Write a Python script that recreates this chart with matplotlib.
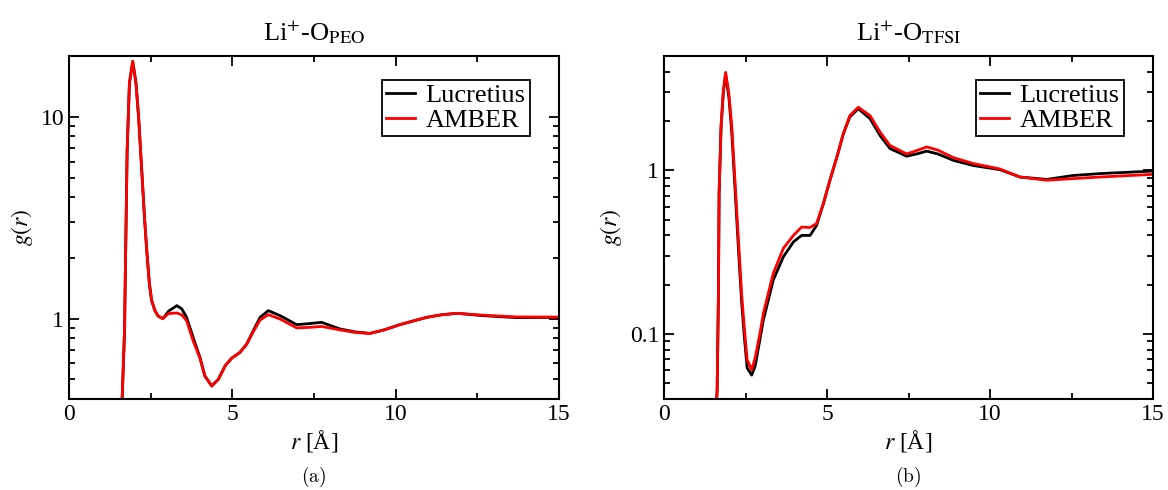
import numpy as np
import matplotlib
matplotlib.use("Agg")
from matplotlib import pyplot as plt
from matplotlib.ticker import LogLocator, FixedLocator, MultipleLocator, NullFormatter, FuncFormatter

# Li+-O(PEO) rdf
r_peo = [1.60, 1.70, 1.72, 1.75, 1.78, 1.85, 1.95, 2.05, 2.13, 2.19, 2.25, 2.31, 2.38, 2.46,
         2.53, 2.63, 2.73, 2.87, 3.05, 3.30, 3.45, 3.60, 3.80, 4.01, 4.16, 4.37, 4.57, 4.78,
         4.98, 5.23, 5.44, 5.64, 5.85, 6.10, 6.46, 6.97, 7.35, 7.73, 8.29, 8.75, 9.21, 9.65,
         10.13, 10.55, 10.95, 11.40, 11.87, 12.68, 13.70, 15.00]
g_peo_luc = [0.30, 0.87, 1.49, 3.19, 6.85, 14.7, 18.8, 14.7, 10.0, 6.85, 4.68, 3.19, 2.18, 1.49,
             1.23, 1.096, 1.03, 1.00, 1.09, 1.16, 1.12, 1.015, 0.807, 0.642, 0.52, 0.464, 0.50, 0.584,
             0.637, 0.68, 0.748, 0.872, 1.015, 1.096, 1.035, 0.934, 0.945, 0.959, 0.89, 0.86, 0.845, 0.88,
             0.934, 0.975, 1.015, 1.045, 1.063, 1.035, 1.012, 1.015]
g_peo_amb = [0.30, 0.87, 1.49, 3.19, 6.85, 14.7, 18.8, 14.7, 10.0, 6.85, 4.68, 3.19, 2.18, 1.49,
             1.23, 1.096, 1.03, 1.00, 1.06, 1.067, 1.045, 0.977, 0.777, 0.635, 0.52, 0.464, 0.50, 0.584,
             0.637, 0.68, 0.748, 0.86, 0.985, 1.047, 0.996, 0.90, 0.905, 0.915, 0.88, 0.855, 0.845, 0.88,
             0.934, 0.975, 1.015, 1.045, 1.063, 1.04, 1.02, 1.018]

# Li+-O(TFSI) rdf
r_tfsi = [1.58, 1.63, 1.67, 1.69, 1.75, 1.82, 1.89, 1.99, 2.08, 2.14, 2.20, 2.26, 2.32, 2.38,
          2.46, 2.55, 2.69, 2.80, 2.94, 3.05, 3.35, 3.66, 3.97, 4.22, 4.48, 4.68, 4.89, 5.09,
          5.30, 5.50, 5.70, 5.96, 6.32, 6.63, 6.93, 7.44, 7.75, 8.06, 8.40, 8.88, 9.49, 10.30,
          10.92, 11.74, 12.55, 13.37, 15.00]
g_tfsi_luc = [0.03, 0.045, 0.177, 0.72, 1.84, 3.0, 3.85, 2.8, 1.7, 1.05, 0.65, 0.40, 0.25, 0.158,
              0.098, 0.062, 0.056, 0.064, 0.092, 0.122, 0.213, 0.296, 0.365, 0.40, 0.40, 0.46, 0.627, 0.87,
              1.2, 1.67, 2.12, 2.38, 2.07, 1.63, 1.36, 1.22, 1.26, 1.31, 1.26, 1.15, 1.07, 1.01,
              0.91, 0.88, 0.93, 0.955, 0.99]
g_tfsi_amb = [0.03, 0.045, 0.177, 0.72, 1.84, 3.07, 3.97, 2.94, 1.84, 1.15, 0.72, 0.45, 0.283, 0.177,
              0.111, 0.0694, 0.0603, 0.072, 0.10, 0.134, 0.234, 0.333, 0.40, 0.45, 0.447, 0.473, 0.627, 0.87,
              1.2, 1.67, 2.16, 2.43, 2.16, 1.71, 1.42, 1.26, 1.32, 1.39, 1.33, 1.195, 1.10, 1.02,
              0.91, 0.87, 0.89, 0.91, 0.945]

plt.rcParams['font.family'] = ['Liberation Serif', 'DejaVu Serif']
plt.rcParams['mathtext.fontset'] = 'stix'

fig = plt.figure(figsize=(11.68, 4.9), dpi=100)
ax1 = fig.add_axes([69 / 1168, 1 - 399 / 490, 490 / 1168, 343 / 490])
ax2 = fig.add_axes([664 / 1168, 1 - 399 / 490, 489 / 1168, 343 / 490])


def fmt(v, pos):
    if v >= 1:
        return "%d" % round(v)
    return "%g" % v


def style(ax, ylim, majors, title, letter):
    ax.set_yscale('log')
    ax.set_xlim(0, 15)
    ax.set_ylim(*ylim)
    ax.xaxis.set_major_locator(MultipleLocator(5))
    ax.xaxis.set_minor_locator(MultipleLocator(2.5))
    ax.yaxis.set_major_locator(FixedLocator(majors))
    ax.yaxis.set_major_formatter(FuncFormatter(fmt))
    ax.yaxis.set_minor_locator(LogLocator(base=10, subs=np.arange(2, 10)))
    ax.yaxis.set_minor_formatter(NullFormatter())
    ax.tick_params(which='both', direction='in', top=True, right=True, labelsize=17, width=1.3)
    ax.tick_params(which='major', length=7)
    ax.tick_params(which='minor', length=4)
    for s in ax.spines.values():
        s.set_linewidth(1.5)
    ax.set_xlabel(r'$r$ [Å]', fontsize=17, labelpad=2)
    ax.set_ylabel(r'$g(r)$', fontsize=17, labelpad=4)
    ax.set_title(title, fontsize=19, pad=11)
    pos = ax.get_position()
    fig.text(pos.x0 + pos.width / 2, 0.027, letter, ha='center', va='center',
             fontsize=14, math_fontfamily='cm')
    leg = ax.legend(loc='upper right', bbox_to_anchor=(0.94, 0.93), fontsize=19,
                    frameon=True, fancybox=False, edgecolor='black', framealpha=1,
                    handlelength=1.1, handletextpad=0.4, borderpad=0.15,
                    labelspacing=0.05, borderaxespad=0)
    leg.get_frame().set_linewidth(1.3)


ax1.plot(r_peo, g_peo_luc, color='black', lw=2, label='Lucretius')
ax1.plot(r_peo, g_peo_amb, color='red', lw=2, label='AMBER')
style(ax1, (0.4, 20), [1, 10], r'Li$^{+}$-O$_{\mathrm{PEO}}$', r'$\mathrm{(a)}$')

ax2.plot(r_tfsi, g_tfsi_luc, color='black', lw=2, label='Lucretius')
ax2.plot(r_tfsi, g_tfsi_amb, color='red', lw=2, label='AMBER')
style(ax2, (0.04, 5), [0.1, 1], r'Li$^{+}$-O$_{\mathrm{TFSI}}$', r'$\mathrm{(b)}$')

fig.savefig('out.png', dpi=100)
